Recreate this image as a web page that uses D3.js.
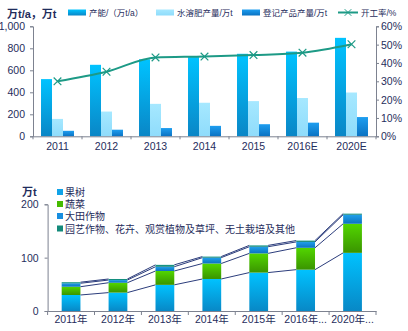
<!DOCTYPE html>
<html><head><meta charset="utf-8">
<script src="https://cdn.jsdelivr.net/npm/d3@7"></script>
<style>
body{margin:0;background:#fff;}
text{font-family:"Liberation Sans",Arial,"Noto Sans CJK SC",sans-serif;fill:#1f2d5c;}
</style></head><body>
<svg id="c" width="408" height="331"></svg>
<script>
// ---- top chart data ----
const years = ["2011","2012","2013","2014","2015","2016E","2020E"];
const capacity = [520, 650, 700, 720, 750, 770, 895];
const waterSoluble = [158, 225, 295, 305, 320, 348, 398];
const registered = [50, 60, 75, 95, 110, 124, 175];
const rate = [0.30, 0.352, 0.43, 0.435, 0.443, 0.456, 0.502];
const topSeriesNames = ["产能/（万t/a）", "水溶肥产量/万t", "登记产品产量/万t", "开工率/%"];
const leftTicks = [0, 200, 400, 600, 800, 1000];
const rightTicks = [0, 0.1, 0.2, 0.3, 0.4, 0.5, 0.6];

// ---- bottom chart data ----
const years2 = ["2011年","2012年","2013年","2014年","2015年","2016年...","2020年..."];
const fruit = [30, 34.5, 49, 60, 72, 77.5, 109];
const vegetables = [15.5, 18.5, 26, 29, 36, 41, 54.5];
const fieldCrops = [6.5, 5, 8, 11, 12.5, 11, 17];
const others = [2, 2, 3.5, 2, 2.5, 2.5, 2];
const bottomSeriesNames = ["果树", "蔬菜", "大田作物", "园艺作物、花卉、观赏植物及草坪、无土栽培及其他"];
const bottomTicks = [0, 100, 200];

const svg = d3.select("#c");
const defs = svg.append("defs");
function grad(id, c1, c2){
  const g = defs.append("linearGradient").attr("id", id).attr("x1",0).attr("y1",0).attr("x2",0).attr("y2",1);
  g.append("stop").attr("offset","0%").attr("stop-color",c1);
  g.append("stop").attr("offset","100%").attr("stop-color",c2);
}
grad("gCap", "#00c3ff", "#0a86c6");
grad("gWater", "#a6e8ff", "#8fdcfb");
grad("gReg", "#1e9ef0", "#0a72c2");
grad("gFruit", "#00c2ff", "#0888c6");
grad("gVeg", "#52d600", "#3a9400");
grad("gField", "#1fa0ea", "#0b72c0");
grad("gOther", "#1aa08e", "#0e7a6c");
const axisColor = "#7d8290";
const lineColor = "#1d9a86";

// ================= TOP CHART =================
const x0 = d3.scaleBand().domain(years).range([33, 376]).paddingInner(0.327).paddingOuter(0.1635);
const x1 = d3.scaleBand().domain([0,1,2]).range([0, x0.bandwidth()]);
const yL = d3.scaleLinear().domain([0, 1000]).range([136.3, 26.3]);
const yR = d3.scaleLinear().domain([0, 0.6]).range([136.3, 26.3]);

const gTop = svg.append("g");
const fills = ["url(#gCap)", "url(#gWater)", "url(#gReg)"];
const topSeries = [capacity, waterSoluble, registered];
topSeries.forEach((vals, k) => {
  gTop.selectAll(null).data(vals).enter().append("rect")
    .attr("x", (d,i) => x0(years[i]) + x1(k))
    .attr("y", d => yL(d))
    .attr("width", x1.bandwidth())
    .attr("height", d => yL(0) - yL(d))
    .attr("fill", fills[k]);
});

// axes
const gl = gTop.append("g").attr("transform", "translate(33,0)").call(d3.axisLeft(yL).tickValues(leftTicks).tickSize(3).tickPadding(5));
const gr = gTop.append("g").attr("transform", "translate(376,0)").call(d3.axisRight(yR).tickValues(rightTicks).tickSize(3).tickPadding(2).tickFormat(d => Math.round(d*100) + "%"));
const step = x0.step();
const boundaries = d3.range(years.length + 1).map(i => 33 + i * step);
const gb = gTop.append("g").attr("transform", "translate(0,136.3)").call(d3.axisBottom(x0).tickSize(0).tickPadding(6));
gb.selectAll(".tick line").remove();
gb.selectAll(null).data(boundaries).enter().append("line")
  .attr("x1", d => d).attr("x2", d => d).attr("y1", 0).attr("y2", 3).attr("stroke", axisColor);
[gl, gr, gb].forEach(g => {
  g.select(".domain").attr("stroke", axisColor);
  g.selectAll(".tick line").attr("stroke", axisColor);
  g.selectAll("text").style("font-size", "10.5px").attr("fill", "#1f2d5c");
});

// line
const cx = i => x0(years[i]) + x0.bandwidth() / 2;
gTop.append("path").datum(rate)
  .attr("d", d3.line().x((d,i) => cx(i)).y(d => yR(d)).curve(d3.curveMonotoneX))
  .attr("fill", "none").attr("stroke", lineColor).attr("stroke-width", 2);
gTop.selectAll(null).data(rate).enter().append("path")
  .attr("d", d3.symbol(d3.symbolX, 40))
  .attr("transform", (d,i) => `translate(${cx(i)},${yR(d)})`)
  .attr("fill", "none").attr("stroke", lineColor).attr("stroke-width", 1.2);

// title
gTop.append("text").attr("x", 7).attr("y", 18).style("font-size", "11px").style("font-weight", "bold").text("万t/a，万t");

// legend
const legX = [68, 156, 242];
const legendFills = ["url(#gCap)", "url(#gWater)", "url(#gReg)"];
legX.forEach((lx, k) => {
  gTop.append("rect").attr("x", lx).attr("y", 9.5).attr("width", 18).attr("height", 6).attr("fill", legendFills[k]);
  gTop.append("text").attr("x", lx + 21).attr("y", 15.5).style("font-size", "8.5px").text(topSeriesNames[k]);
});
gTop.append("line").attr("x1", 338).attr("x2", 358).attr("y1", 12.5).attr("y2", 12.5).attr("stroke", lineColor).attr("stroke-width", 2);
gTop.append("path").attr("d", d3.symbol(d3.symbolX, 30)).attr("transform", "translate(348,12.5)").attr("fill","none").attr("stroke", lineColor);
gTop.append("text").attr("x", 361).attr("y", 15.5).style("font-size", "8.5px").text(topSeriesNames[3]);

// ================= BOTTOM CHART =================
const bx = d3.scaleBand().domain(years2).range([47.6, 376]).paddingInner(0.6).paddingOuter(0.3);
const by = d3.scaleLinear().domain([0, 200]).range([311, 204.3]);
const gBot = svg.append("g");
const rows = years2.map((y, i) => ({ year: y, fruit: fruit[i], vegetables: vegetables[i], fieldCrops: fieldCrops[i], others: others[i] }));
const keys = ["fruit", "vegetables", "fieldCrops", "others"];
const stacked = d3.stack().keys(keys)(rows);
const bFills = ["url(#gFruit)", "url(#gVeg)", "url(#gField)", "url(#gOther)"];

// series lines
stacked.forEach((layer, k) => {
  for (let i = 0; i < years2.length - 1; i++) {
    gBot.append("line")
      .attr("x1", bx(years2[i]) + bx.bandwidth()).attr("y1", by(layer[i][1]))
      .attr("x2", bx(years2[i+1])).attr("y2", by(layer[i+1][1]))
      .attr("stroke", "#2c3d7c").attr("stroke-width", 1);
  }
});
stacked.forEach((layer, k) => {
  gBot.selectAll(null).data(layer).enter().append("rect")
    .attr("x", (d,i) => bx(years2[i]))
    .attr("y", d => by(d[1]))
    .attr("width", bx.bandwidth())
    .attr("height", d => by(d[0]) - by(d[1]))
    .attr("fill", bFills[k]);
});

const bl = gBot.append("g").attr("transform", "translate(47.6,0)").call(d3.axisLeft(by).tickValues(bottomTicks).tickSize(3).tickPadding(6));
const bstep = bx.step();
const bb = gBot.append("g").attr("transform", "translate(0,311)").call(d3.axisBottom(bx).tickSize(0).tickPadding(5));
bb.selectAll(null).data(d3.range(years2.length + 1).map(i => 47.6 + i * bstep)).enter().append("line")
  .attr("x1", d => d).attr("x2", d => d).attr("y1", 0).attr("y2", 4).attr("stroke", axisColor);
[bl, bb].forEach(g => {
  g.select(".domain").attr("stroke", axisColor);
  g.selectAll(".tick line").attr("stroke", axisColor);
  g.selectAll("text").style("font-size", "10.5px").attr("fill", "#1f2d5c");
});

gBot.append("text").attr("x", 22).attr("y", 196).style("font-size", "11px").style("font-weight", "bold").text("万t");
const legY = [192, 204, 216, 228.5];
const legColors = ["#11a3e8", "#45bb00", "#178ee0", "#138a7a"];
legY.forEach((ly, k) => {
  gBot.append("rect").attr("x", 57).attr("y", ly - 3).attr("width", 6).attr("height", 6).attr("fill", legColors[k]);
  gBot.append("text").attr("x", 65).attr("y", ly + 4).style("font-size", "10px").text(bottomSeriesNames[k]);
});
</script></body></html>
